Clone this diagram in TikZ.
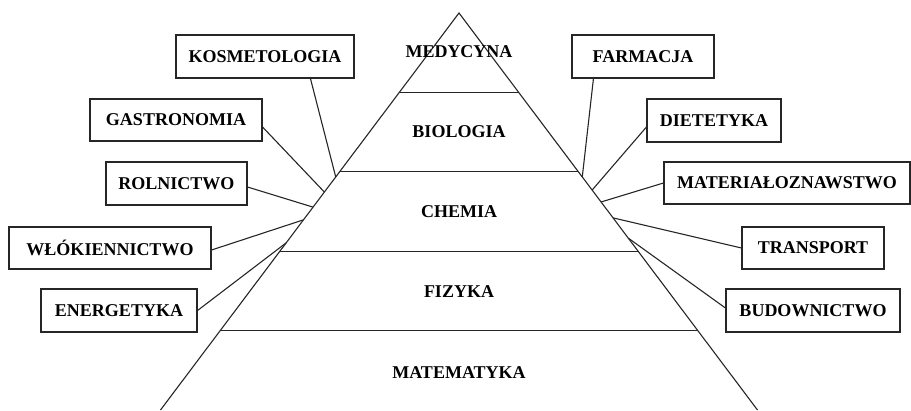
\documentclass[tikz,border=0pt]{standalone}
\usepackage{fontspec}
\setmainfont{Liberation Serif}
\usetikzlibrary{calc}
\begin{document}
\begin{tikzpicture}[x=1pt,y=-1pt,
  ln/.style={line width=1.1pt,black!85},
  lbl/.style={font=\fontsize{18}{20}\selectfont\bfseries,inner sep=0pt},
  bx/.style={draw,line width=1.1pt,black!85,font=\fontsize{18}{20}\selectfont\bfseries,inner sep=0pt,minimum height=43pt,text=black}]
\useasboundingbox (0,0) rectangle (911,410);
% pyramid
\coordinate (A) at (459,13);
\coordinate (BL) at (160.5,410);
\coordinate (BR) at (757.5,410);
\draw[ln] (BL) -- (A) -- (BR);
\foreach \t/\n in {0.2/1,0.4/2,0.6/3,0.8/4}{
  \coordinate (l\n) at ($(A)!\t!(BL)$);
  \coordinate (r\n) at ($(A)!\t!(BR)$);
  \draw[ln] (l\n) -- (r\n);
}
\node[lbl] (med) at (459,52) {MEDYCYNA};
\node[lbl] (bio) at (459,132) {BIOLOGIA};
\node[lbl] (che) at (459,212) {CHEMIA};
\node[lbl] (fiz) at (459,292) {FIZYKA};
\node[lbl] (mat) at (459,373) {MATEMATYKA};
% boxes
\node[bx,minimum width=178pt] (kos) at (265,56.5) {KOSMETOLOGIA};
\node[bx,minimum width=172pt,minimum height=42pt] (gas) at (176,120) {GASTRONOMIA};
\node[bx,minimum width=141pt] (rol) at (176.5,183.5) {ROLNICTWO};
\node[bx,minimum width=202pt,minimum height=42pt] (wlo) at (110,248) {WŁÓKIENNICTWO};
\node[bx,minimum width=156pt] (ene) at (119,310.5) {ENERGETYKA};
\node[bx,minimum width=142pt] (far) at (643,56.5) {FARMACJA};
\node[bx,minimum width=134pt] (die) at (714,120.5) {DIETETYKA};
\node[bx,minimum width=246pt,minimum height=42pt] (mtz) at (787,183) {MATERIAŁOZNAWSTWO};
\node[bx,minimum width=142pt,minimum height=42pt] (tra) at (813,248) {TRANSPORT};
\node[bx,minimum width=174pt] (bud) at (813,310.5) {BUDOWNICTWO};
% attachment points on the pyramid sides
\coordinate (pkos) at ($(A)!0.413!(BL)$);
\coordinate (pgas) at ($(A)!0.451!(BL)$);
\coordinate (prol) at ($(A)!0.489!(BL)$);
\coordinate (pwlo) at ($(A)!0.521!(BL)$);
\coordinate (pene) at ($(A)!0.579!(BL)$);
\coordinate (pfar) at ($(A)!0.413!(BR)$);
\coordinate (pdie) at ($(A)!0.446!(BR)$);
\coordinate (pmtz) at ($(A)!0.476!(BR)$);
\coordinate (ptra) at ($(A)!0.516!(BR)$);
\coordinate (pbud) at ($(A)!0.567!(BR)$);
% connectors
\draw[ln] ($(kos.south west)+(135,0)$) -- (pkos);
\draw[ln] ($(gas.east)+(0,7)$) -- (pgas);
\draw[ln] ($(rol.east)+(0,3.5)$) -- (prol);
\draw[ln] ($(wlo.east)+(0,2)$) -- (pwlo);
\draw[ln] (ene.east) -- (pene);
\draw[ln] ($(far.south west)+(22,0)$) -- (pfar);
\draw[ln] ($(die.west)+(0,6.5)$) -- (pdie);
\draw[ln] (mtz.west) -- (pmtz);
\draw[ln] (tra.west) -- (ptra);
\draw[ln] ($(bud.west)+(0,-2.5)$) -- (pbud);
\end{tikzpicture}
\end{document}
